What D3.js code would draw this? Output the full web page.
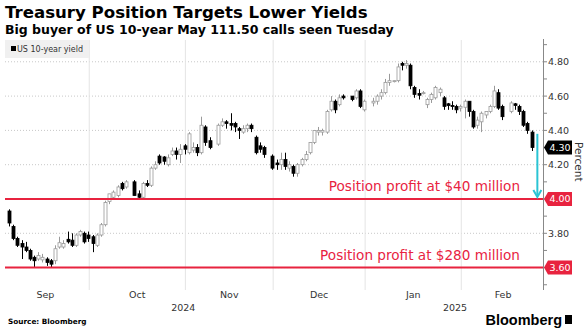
<!DOCTYPE html>
<html>
<head>
<meta charset="utf-8">
<script src="https://cdn.jsdelivr.net/npm/d3@7"></script>
<style>
  body { margin: 0; background: #fff; }
  svg { display: block; font-family: "DejaVu Sans", Verdana, sans-serif; }
  .title { font-size: 16.6px; font-weight: bold; fill: #000; }
  .subtitle { font-size: 12.5px; font-weight: bold; fill: #000; }
  .tick-label { font-size: 9.5px; fill: #333; }
  .month { font-size: 9.5px; fill: #333; }
</style>
</head>
<body>
<div id="chart"></div>
<script>
// date, open, high, low, close (US 10-year yield, %)
var candles = [
  ["2024-09-03",3.93,3.94,3.84,3.86],["2024-09-04",3.84,3.85,3.76,3.77],["2024-09-05",3.77,3.78,3.72,3.73],
  ["2024-09-06",3.74,3.76,3.65,3.72],["2024-09-09",3.72,3.75,3.69,3.70],["2024-09-10",3.70,3.71,3.64,3.65],
  ["2024-09-11",3.66,3.67,3.60,3.64],["2024-09-12",3.65,3.69,3.64,3.67],["2024-09-13",3.645,3.68,3.63,3.66],
  ["2024-09-16",3.65,3.66,3.61,3.63],["2024-09-17",3.64,3.65,3.60,3.62],["2024-09-18",3.64,3.73,3.62,3.71],
  ["2024-09-19",3.72,3.78,3.71,3.745],["2024-09-20",3.72,3.76,3.71,3.74],["2024-09-23",3.765,3.81,3.74,3.75],
  ["2024-09-24",3.76,3.80,3.72,3.73],["2024-09-25",3.73,3.80,3.72,3.79],["2024-09-26",3.79,3.82,3.78,3.81],
  ["2024-09-27",3.80,3.81,3.74,3.75],["2024-09-30",3.79,3.81,3.75,3.77],
  ["2024-10-01",3.78,3.79,3.69,3.74],["2024-10-02",3.73,3.80,3.72,3.79],["2024-10-03",3.79,3.86,3.78,3.85],
  ["2024-10-04",3.85,3.99,3.84,3.98],["2024-10-07",3.985,4.03,3.97,4.03],["2024-10-08",4.01,4.05,4.00,4.04],
  ["2024-10-09",4.02,4.08,4.01,4.07],["2024-10-10",4.09,4.10,4.05,4.06],["2024-10-11",4.07,4.11,4.06,4.10],
  ["2024-10-15",4.10,4.11,4.02,4.02],["2024-10-16",4.03,4.05,4.00,4.01],["2024-10-17",4.01,4.10,4.00,4.09],
  ["2024-10-18",4.09,4.11,4.07,4.08],["2024-10-21",4.08,4.19,4.07,4.18],["2024-10-22",4.18,4.22,4.17,4.20],
  ["2024-10-23",4.25,4.26,4.20,4.21],["2024-10-24",4.245,4.25,4.20,4.22],["2024-10-25",4.20,4.26,4.19,4.24],
  ["2024-10-28",4.26,4.30,4.25,4.28],["2024-10-29",4.28,4.30,4.23,4.26],["2024-10-30",4.26,4.32,4.21,4.29],
  ["2024-10-31",4.31,4.32,4.26,4.29],
  ["2024-11-01",4.27,4.39,4.26,4.38],["2024-11-04",4.285,4.33,4.27,4.30],["2024-11-05",4.30,4.32,4.25,4.27],
  ["2024-11-06",4.27,4.48,4.26,4.43],["2024-11-07",4.42,4.43,4.31,4.33],["2024-11-08",4.34,4.36,4.29,4.30],
  ["2024-11-12",4.32,4.44,4.31,4.43],["2024-11-13",4.43,4.47,4.42,4.45],["2024-11-14",4.45,4.46,4.41,4.44],
  ["2024-11-15",4.44,4.50,4.40,4.43],["2024-11-18",4.44,4.45,4.39,4.42],["2024-11-19",4.41,4.42,4.35,4.40],
  ["2024-11-20",4.39,4.43,4.38,4.41],["2024-11-21",4.41,4.44,4.39,4.43],["2024-11-22",4.43,4.44,4.39,4.41],
  ["2024-11-25",4.36,4.37,4.26,4.27],["2024-11-26",4.31,4.33,4.27,4.29],["2024-11-27",4.30,4.31,4.24,4.26],
  ["2024-11-29",4.25,4.26,4.17,4.18],
  ["2024-12-02",4.21,4.23,4.17,4.20],["2024-12-03",4.20,4.27,4.17,4.23],["2024-12-04",4.23,4.27,4.17,4.19],
  ["2024-12-05",4.18,4.22,4.16,4.20],["2024-12-06",4.19,4.20,4.13,4.15],["2024-12-09",4.15,4.21,4.13,4.20],
  ["2024-12-10",4.20,4.24,4.19,4.23],["2024-12-11",4.23,4.28,4.22,4.26],["2024-12-12",4.27,4.33,4.26,4.33],
  ["2024-12-13",4.33,4.40,4.32,4.40],["2024-12-16",4.39,4.42,4.37,4.40],["2024-12-17",4.39,4.41,4.37,4.40],
  ["2024-12-18",4.39,4.52,4.38,4.51],["2024-12-19",4.52,4.60,4.51,4.57],["2024-12-20",4.57,4.58,4.50,4.52],
  ["2024-12-23",4.55,4.61,4.54,4.59],["2024-12-24",4.60,4.61,4.58,4.59],["2024-12-26",4.60,4.60,4.57,4.58],
  ["2024-12-27",4.59,4.64,4.58,4.63],["2024-12-30",4.63,4.64,4.53,4.54],["2024-12-31",4.52,4.58,4.51,4.57],
  ["2025-01-02",4.56,4.59,4.54,4.57],["2025-01-03",4.57,4.61,4.55,4.60],["2025-01-06",4.60,4.64,4.58,4.62],
  ["2025-01-07",4.62,4.70,4.61,4.68],["2025-01-08",4.68,4.73,4.66,4.69],["2025-01-09",4.69,4.69,4.68,4.69],
  ["2025-01-10",4.69,4.79,4.68,4.77],["2025-01-13",4.79,4.80,4.75,4.78],["2025-01-14",4.78,4.81,4.76,4.79],
  ["2025-01-15",4.78,4.79,4.64,4.66],["2025-01-16",4.65,4.66,4.59,4.61],["2025-01-17",4.615,4.64,4.58,4.605],
  ["2025-01-20",4.62,4.63,4.61,4.62],["2025-01-21",4.55,4.59,4.53,4.58],["2025-01-22",4.58,4.62,4.56,4.61],
  ["2025-01-23",4.59,4.66,4.58,4.65],["2025-01-24",4.62,4.65,4.60,4.64],["2025-01-27",4.59,4.60,4.52,4.54],
  ["2025-01-28",4.555,4.56,4.52,4.545],["2025-01-29",4.545,4.57,4.52,4.54],["2025-01-30",4.54,4.55,4.50,4.52],
  ["2025-01-31",4.53,4.55,4.51,4.54],
  ["2025-02-03",4.535,4.58,4.47,4.57],["2025-02-04",4.57,4.57,4.48,4.51],["2025-02-05",4.51,4.52,4.41,4.42],
  ["2025-02-06",4.43,4.48,4.41,4.46],["2025-02-07",4.45,4.51,4.39,4.50],["2025-02-10",4.49,4.51,4.47,4.51],
  ["2025-02-11",4.51,4.55,4.50,4.54],["2025-02-12",4.54,4.66,4.53,4.63],["2025-02-13",4.62,4.64,4.52,4.53],
  ["2025-02-14",4.54,4.55,4.46,4.48],["2025-02-18",4.51,4.57,4.50,4.56],["2025-02-19",4.555,4.56,4.52,4.545],
  ["2025-02-20",4.54,4.55,4.49,4.51],["2025-02-21",4.51,4.52,4.42,4.43],["2025-02-24",4.44,4.45,4.38,4.40],
  ["2025-02-25",4.39,4.40,4.28,4.30]
];

var yTicks = [3.60, 3.80, 4.00, 4.20, 4.40, 4.60, 4.80];
var yMinor = [3.50, 3.70, 3.90, 4.10, 4.30, 4.50, 4.70, 4.90];
var months = [["Sep","2024-09-02"],["Oct","2024-10-01"],["Nov","2024-11-01"],["Dec","2024-12-02"],["Jan","2025-01-01"],["Feb","2025-02-03"]];
var monthsEnd = "2025-03-03";
var years = [["2024","2024-09-02","2025-01-01"],["2025","2025-01-01","2025-03-03"]];
var levels = [[4.00,"Position profit at $40 million"],[3.60,"Position profit at $280 million"]];
var arrowFrom = 4.38, arrowTo = 4.00;

var width = 587, height = 334;
var parse = d3.timeParse("%Y-%m-%d");
var start = parse("2024-09-02");
function wd(s){
    var days = d3.timeDay.count(start, parse(s));
    return Math.floor(days/7)*5 + days%7;
}

var x = d3.scaleLinear().domain([0, 128.75]).range([4.8, 543]);
var y = d3.scaleLinear().domain([3.5, 4.93]).range([284.75, 39.5]);
var red = "#e8233f", cyan = "#2ac4d4";

var svg = d3.select("#chart").append("svg")
    .attr("width", width).attr("height", height);

svg.append("text").attr("class","title").attr("x",5).attr("y",18)
    .text("Treasury Position Targets Lower Yields");
svg.append("text").attr("class","subtitle").attr("x",5).attr("y",34)
    .text("Big buyer of US 10-year May 111.50 calls seen Tuesday");

// horizontal dotted grid
svg.selectAll(".hgrid").data(yTicks).enter().append("line")
    .attr("x1",5).attr("x2",543)
    .attr("y1",d=>y(d)).attr("y2",d=>y(d))
    .attr("stroke","#c8c8c8").attr("stroke-dasharray","1,2");

// vertical month grid
var bounds = months.slice(1).map(m => x(wd(m[1]) - 0.8));
svg.selectAll(".vgrid").data(bounds).enter().append("line")
    .attr("x1",d=>d).attr("x2",d=>d).attr("y1",40).attr("y2",290)
    .attr("stroke","#e4e4e4");

// legend
svg.append("rect").attr("x",5).attr("y",40).attr("width",84).attr("height",18).attr("fill","#f0f0f0");
svg.append("rect").attr("x",11).attr("y",46).attr("width",5).attr("height",5).attr("fill","#000");
svg.append("text").attr("x",17).attr("y",52).attr("font-size","8px").attr("fill","#333")
    .text("US 10-year yield");

// candles
var data = candles.map(c => ({i: wd(c[0]), o: c[1], h: c[2], l: c[3], c: c[4]}));
var g = svg.append("g");
g.selectAll(".wick").data(data).enter().append("line")
    .attr("x1",d=>Math.round(x(d.i))+0.5).attr("x2",d=>Math.round(x(d.i))+0.5)
    .attr("y1",d=>y(d.h)).attr("y2",d=>y(d.l))
    .attr("stroke",d=>d.c < d.o ? "#000" : "#9a9a9a");
g.selectAll(".body").data(data).enter().append("rect")
    .attr("x",d=>Math.round(x(d.i))-1)
    .attr("width",3)
    .attr("y",d=>y(Math.max(d.o,d.c)))
    .attr("height",d=>Math.max(1, y(Math.min(d.o,d.c)) - y(Math.max(d.o,d.c))))
    .attr("fill",d=>d.c < d.o ? "#000" : "#fff")
    .attr("stroke",d=>d.c < d.o ? "#000" : "#9a9a9a").attr("stroke-width",0.8);

// red levels
levels.forEach(function(lv){
    svg.append("line").attr("x1",5).attr("x2",543)
        .attr("y1",y(lv[0])).attr("y2",y(lv[0]))
        .attr("stroke",red).attr("stroke-width",2);
    svg.append("text").attr("x",520).attr("y",y(lv[0])-8)
        .attr("text-anchor","end").attr("font-size","13.6px").attr("fill",red)
        .text(lv[1]);
});

// cyan arrow
var ax = x(127.4);
svg.append("line").attr("x1",ax).attr("x2",ax)
    .attr("y1",y(arrowFrom)).attr("y2",y(arrowTo)-4)
    .attr("stroke",cyan).attr("stroke-width",2);
svg.append("path")
    .attr("d","M"+(ax-4)+","+(y(arrowTo)-9)+"L"+ax+","+(y(arrowTo)-2)+"L"+(ax+4)+","+(y(arrowTo)-9))
    .attr("fill","none").attr("stroke",cyan).attr("stroke-width",2);

// right axis
svg.append("line").attr("x1",543.5).attr("x2",543.5).attr("y1",39).attr("y2",290)
    .attr("stroke","#888");
svg.selectAll(".minor").data(yMinor.concat(yTicks)).enter().append("line")
    .attr("x1",543.5).attr("x2",547).attr("y1",d=>y(d)).attr("y2",d=>y(d))
    .attr("stroke","#888");
svg.selectAll(".tick-label").data(yTicks.filter(d => d !== 4.0 && d !== 3.6)).enter().append("text")
    .attr("class","tick-label").attr("x",548).attr("y",d=>y(d)+3.5)
    .text(d=>d.toFixed(2));

// value tags
function tag(v, color){
    var ty = y(v);
    svg.append("path")
        .attr("d","M544,"+ty+"L548,"+(ty-7)+"L572,"+(ty-7)+"L572,"+(ty+7)+"L548,"+(ty+7)+"Z")
        .attr("fill",color);
    svg.append("text").attr("x",560).attr("y",ty+3.5).attr("text-anchor","middle")
        .attr("font-size","9.5px").attr("fill","#fff").text(v.toFixed(2));
}
tag(data[data.length-1].c, "#000");
levels.forEach(lv => tag(lv[0], red));

svg.append("text").attr("transform","translate(575,142) rotate(90)")
    .attr("font-size","10.5px").attr("fill","#333").text("Percent");

// x axis labels
var edges = months.map(m => x(wd(m[1]) - 0.8)).concat([x(wd(monthsEnd) - 0.8)]);
svg.selectAll(".month").data(months).enter().append("text")
    .attr("class","month").attr("text-anchor","middle")
    .attr("x",(d,i)=>(edges[i]+edges[i+1])/2).attr("y",298)
    .text(d=>d[0]);
svg.selectAll(".year").data(years).enter().append("text")
    .attr("class","month").attr("text-anchor","middle")
    .attr("x",d=>(x(wd(d[1])-0.8)+x(wd(d[2])-0.8))/2).attr("y",311)
    .text(d=>d[0]);

// footer
svg.append("text").attr("x",8).attr("y",324).attr("font-size","7.3px").attr("font-weight","bold")
    .attr("fill","#000").text("Source: Bloomberg");
svg.append("text").attr("x",562).attr("y",325).attr("text-anchor","end")
    .attr("font-family","Liberation Sans, Arial, sans-serif")
    .attr("font-size","14.5px").attr("font-weight","bold").attr("fill","#000").text("Bloomberg");
svg.append("rect").attr("x",565).attr("y",315).attr("width",7).attr("height",9).attr("fill","#000");
</script>
</body>
</html>
